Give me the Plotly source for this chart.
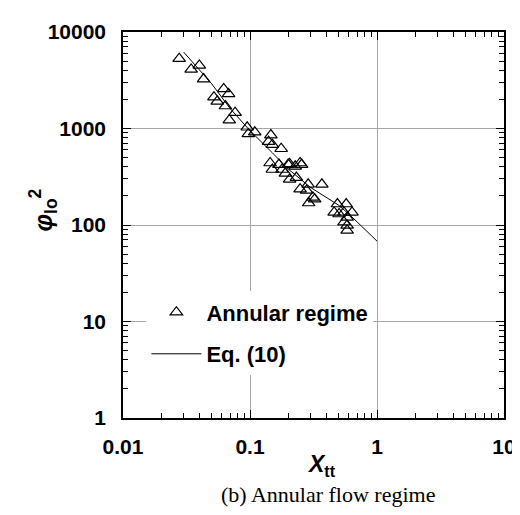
import plotly.graph_objects as go

# Annular regime data (X_tt, phi_lo^2)
xtt = [0.0277, 0.0344, 0.0399, 0.0431, 0.0621, 0.0678, 0.052, 0.0552, 0.064, 0.0763,
       0.0687, 0.095, 0.097, 0.109, 0.146, 0.14, 0.15, 0.176, 0.144, 0.150,
       0.169, 0.179, 0.205, 0.227, 0.248, 0.19, 0.205, 0.232, 0.248, 0.287,
       0.279, 0.29, 0.323, 0.368, 0.46, 0.488, 0.572, 0.55, 0.636, 0.582,
       0.55, 0.582, 0.582, 0.503, 0.2, 0.255, 0.313]
phi = [5300, 4100, 4500, 3250, 2570, 2285, 2110, 1910, 1710, 1460,
       1220, 1030, 880, 915, 855, 730, 680, 617, 439, 376,
       423, 376, 429, 406, 439, 343, 297, 310, 235, 264,
       228, 169, 185, 264, 135, 165, 165, 135, 135, 120,
       107, 99, 88, 130, 423, 423, 193]

# Eq. (10) curve
eq_x = [0.03, 0.04, 0.05, 0.07, 0.1, 0.15, 0.2, 0.3, 0.4, 0.5, 0.6, 0.7, 0.8, 0.9, 1.0]
eq_y = [6200, 4100, 2900, 1600, 950, 560, 380, 245, 192, 160, 130, 108, 92, 78, 68]

x_tickvals = [0.01, 0.1, 1, 10]
x_ticktext = ["0.01", "0.1", "1", "10"]
y_tickvals = [1, 10, 100, 1000, 10000]
y_ticktext = ["1", "10", "100", "1000", "10000"]

fig = go.Figure()
fig.add_trace(go.Scatter(
    x=xtt, y=phi, mode="markers", name="Annular regime", legendgroup="a",
    marker=dict(symbol="triangle-up-open", size=11, color="black",
                line=dict(width=1.2, color="black"))))
fig.add_trace(go.Scatter(
    x=eq_x, y=eq_y, mode="lines", name="Eq. (10)", legendgroup="b",
    line=dict(color="black", width=1)))

tickfont = dict(family="Liberation Sans", size=21, color="black", weight="bold")
common = dict(
    type="log", ticks="inside", ticklen=8, tickwidth=1.2, tickcolor="black",
    showline=True, linecolor="black", linewidth=1.5, mirror="ticks",
    showgrid=True, gridcolor="#a6a6a6", gridwidth=1.3, zeroline=False,
    tickfont=tickfont,
    minor=dict(ticks="inside", ticklen=5, tickwidth=1, tickcolor="black",
               dtick="D1", showgrid=False),
)
fig.update_xaxes(range=[-2, 1], tickmode="array", tickvals=x_tickvals,
                 ticktext=x_ticktext, ticklabelstandoff=9, **common)
fig.update_yaxes(range=[0, 4], tickmode="array", tickvals=y_tickvals,
                 ticktext=y_ticktext, ticklabelstandoff=11, **common)

fig.update_layout(
    width=520, height=515,
    margin=dict(l=115, r=14, t=19, b=105),
    plot_bgcolor="white", paper_bgcolor="white",
    showlegend=True,
    legend=dict(x=0.0614, y=0.328, xanchor="left", yanchor="top",
                bgcolor="white", borderwidth=0, itemwidth=50,
                tracegroupgap=10,
                font=dict(family="Liberation Sans", size=22, color="black",
                          weight="bold")),
    annotations=[
        dict(text="<b><i>X</i></b><b><sub>tt</sub></b>", xref="paper", yref="paper",
             x=0.522, y=-0.122, showarrow=False, xanchor="center", yanchor="middle",
             font=dict(family="Liberation Sans", size=23, color="black")),
        dict(text="<b><i>φ</i></b><b><sub>lo</sub></b><b><sup>2</sup></b>",
             xref="paper", yref="paper", x=-0.21, y=0.54, textangle=-90,
             showarrow=False, xanchor="center", yanchor="middle",
             font=dict(family="Liberation Sans", size=25, color="black")),
        dict(text="(b) Annular flow regime", xref="paper", yref="paper",
             x=0.537, y=-0.197, showarrow=False, xanchor="center", yanchor="middle",
             font=dict(family="Liberation Serif", size=22, color="black")),
    ],
)

fig.write_html("out.html")
